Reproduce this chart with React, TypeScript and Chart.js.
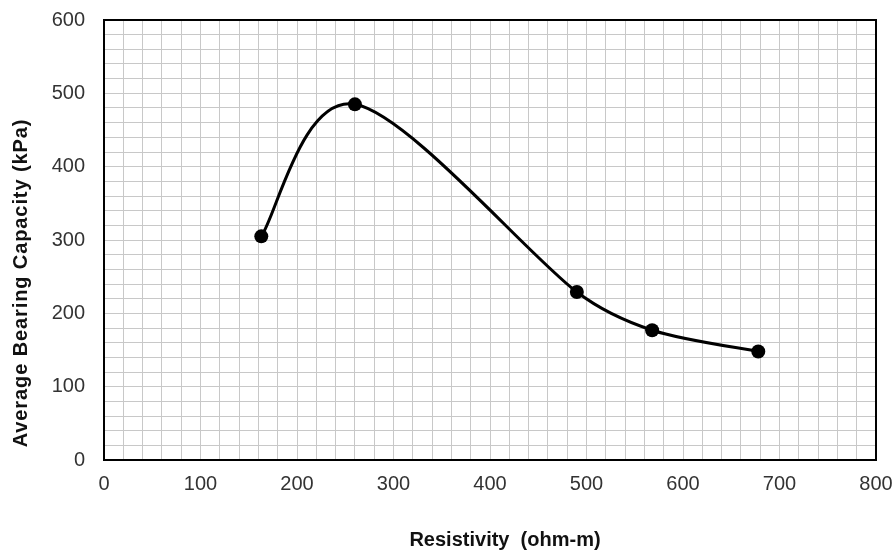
import React, { useEffect, useRef } from "react";
import { Chart, registerables } from "chart.js";

Chart.register(...registerables);

const resistivity = [163, 260, 490, 568, 678];
const bearingCapacity = [305, 485, 229, 177, 148];

const xMin = 0;
const xMax = 800;
const yMin = 0;
const yMax = 600;
const gridStep = 20;
const labelStep = 100;

const xTitle = "Resistivity  (ohm-m)";
const yTitle = "Average Bearing Capacity (kPa)";

const FONT = "'Liberation Sans', Arial, sans-serif";

// Excel-like smoothed line through the points, positioned with the chart's scales
function drawSmoothLine(chart: any) {
  const { ctx, scales } = chart;
  const pts = resistivity.map((x, i) => ({
    x: scales.x.getPixelForValue(x),
    y: scales.y.getPixelForValue(bearingCapacity[i]),
  }));
  const n = pts.length;
  const dist = (a: any, b: any) => Math.hypot(b.x - a.x, b.y - a.y);
  const inArm: any[] = [];
  const outArm: any[] = [];
  for (let i = 0; i < n; i++) {
    const prev = pts[Math.max(0, i - 1)];
    const next = pts[Math.min(n - 1, i + 1)];
    const tx = (next.x - prev.x) / 6;
    const ty = (next.y - prev.y) / 6;
    const len = Math.hypot(tx, ty) || 1;
    let inLen = len;
    let outLen = len;
    if (i > 0) inLen = Math.min(len, dist(pts[i - 1], pts[i]) / 3);
    if (i < n - 1) outLen = Math.min(len, dist(pts[i], pts[i + 1]) / 3);
    const ux = tx / len;
    const uy = ty / len;
    inArm.push({ x: pts[i].x - ux * inLen, y: pts[i].y - uy * inLen });
    outArm.push({ x: pts[i].x + ux * outLen, y: pts[i].y + uy * outLen });
  }
  ctx.save();
  ctx.strokeStyle = "#000";
  ctx.lineWidth = 3;
  ctx.lineJoin = "round";
  ctx.lineCap = "round";
  ctx.beginPath();
  ctx.moveTo(pts[0].x, pts[0].y);
  for (let i = 0; i < n - 1; i++) {
    const c1 = outArm[i];
    const c2 = inArm[i + 1];
    ctx.bezierCurveTo(c1.x, c1.y, c2.x, c2.y, pts[i + 1].x, pts[i + 1].y);
  }
  ctx.stroke();
  ctx.restore();
}

const framePlugin = {
  id: "frame",
  beforeDatasetsDraw(chart: any) {
    const { ctx, chartArea } = chart;
    ctx.save();
    ctx.strokeStyle = "#000";
    ctx.lineWidth = 2;
    ctx.strokeRect(chartArea.left, chartArea.top, chartArea.right - chartArea.left, chartArea.bottom - chartArea.top);
    ctx.restore();
    drawSmoothLine(chart);
  },
  afterDraw(chart: any) {
    const { ctx } = chart;
    ctx.save();
    ctx.fillStyle = "#111";
    ctx.font = `bold 20px ${FONT}`;
    ctx.textAlign = "center";
    ctx.textBaseline = "alphabetic";
    ctx.fillText(xTitle, 505, 546);
    ctx.translate(27, 283);
    ctx.rotate(-Math.PI / 2);
    try {
      (ctx as any).letterSpacing = "0.9px";
    } catch (e) {}
    ctx.fillText(yTitle, 0, 0);
    ctx.restore();
  },
};

export default function App() {
  const ref = useRef<HTMLCanvasElement | null>(null);

  useEffect(() => {
    if (!ref.current) return;
    const chart = new Chart(ref.current, {
      type: "scatter",
      data: {
        datasets: [
          {
            data: resistivity.map((x, i) => ({ x, y: bearingCapacity[i] })),
            showLine: false,
            borderColor: "#000",
            backgroundColor: "#000",
            pointRadius: 7,
            pointHoverRadius: 7,
            pointBorderWidth: 0,
          },
        ],
      },
      options: {
        animation: false,
        responsive: false,
        maintainAspectRatio: false,
        layout: { padding: { top: 20, right: 19, left: 0, bottom: 0 } },
        plugins: { legend: { display: false }, tooltip: { enabled: false } },
        scales: {
          x: {
            type: "linear",
            min: xMin,
            max: xMax,
            afterFit(scale: any) {
              scale.height = 92;
              scale.paddingLeft = 0;
              scale.paddingRight = 0;
            },
            ticks: {
              stepSize: gridStep,
              autoSkip: false,
              maxRotation: 0,
              padding: 12,
              color: "#333",
              font: { family: FONT, size: 20 },
              callback: (v: any) => (Number(v) % labelStep === 0 ? String(v) : ""),
            },
            grid: { color: "#c8c8c8", lineWidth: 1, drawTicks: false },
            border: { display: false },
          },
          y: {
            type: "linear",
            min: yMin,
            max: yMax,
            afterFit(scale: any) {
              scale.width = 104;
              scale.paddingTop = 0;
              scale.paddingBottom = 0;
            },
            ticks: {
              stepSize: gridStep,
              autoSkip: false,
              padding: 19,
              color: "#333",
              font: { family: FONT, size: 20 },
              callback: (v: any) => (Number(v) % labelStep === 0 ? String(v) : ""),
            },
            grid: { color: "#c8c8c8", lineWidth: 1, drawTicks: false },
            border: { display: false },
          },
        },
      },
      plugins: [framePlugin],
    });
    return () => chart.destroy();
  }, []);

  return (
    <div style={{ position: "fixed", left: 0, top: 0, width: 895, height: 552, background: "#fff" }}>
      <canvas ref={ref} width={895} height={552} style={{ width: 895, height: 552 }} />
    </div>
  );
}
